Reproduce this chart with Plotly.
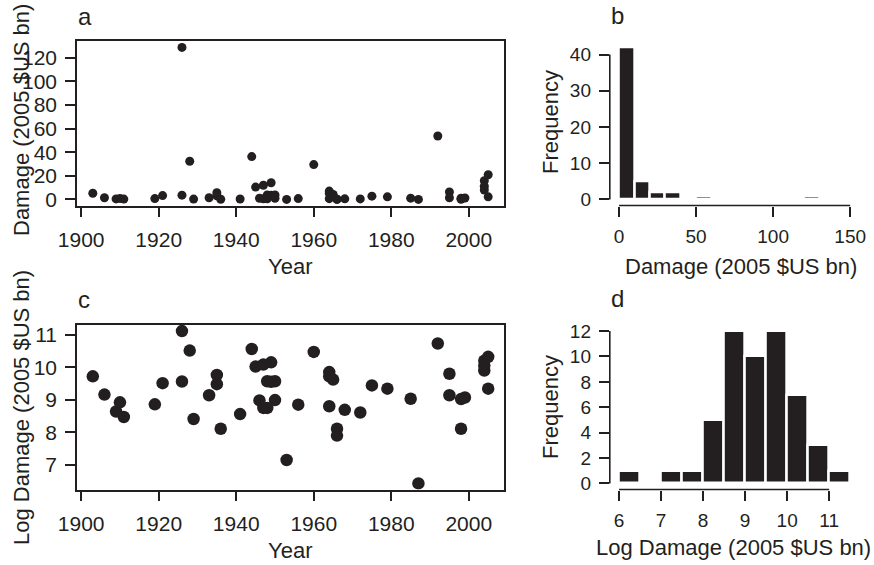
import plotly.graph_objects as go

# Landfalling hurricane losses: year and log10 of normalised damage (2005 US$)
years = [1903, 1906, 1909, 1910, 1911, 1919, 1921, 1926, 1926, 1928,
         1929, 1933, 1935, 1935, 1936, 1941, 1944, 1945, 1946, 1947,
         1947, 1948, 1948, 1949, 1949, 1950, 1950, 1953, 1956, 1960,
         1964, 1964, 1964, 1965, 1966, 1966, 1968, 1972, 1975, 1979,
         1985, 1987, 1992, 1995, 1995, 1998, 1998, 1999, 2004, 2004,
         2004, 2005, 2005]
log_damage = [9.72, 9.16, 8.64, 8.92, 8.47, 8.86, 9.51, 11.11, 9.56, 10.51,
              8.41, 9.14, 9.76, 9.48, 8.11, 8.56, 10.56, 10.02, 8.98, 10.08,
              8.75, 9.57, 8.75, 10.15, 9.55, 9.57, 8.99, 7.15, 8.85, 10.47,
              9.85, 9.72, 8.80, 9.62, 8.11, 7.90, 8.69, 8.61, 9.44, 9.34,
              9.03, 6.43, 10.73, 9.80, 9.14, 9.02, 8.11, 9.07, 10.20, 10.05,
              9.90, 10.32, 9.34]

# damage in billions of 2005 US$ (log values are log10 of dollars)
damage_bn = [10 ** (v - 9) for v in log_damage]

year_ticks = [1900, 1920, 1940, 1960, 1980, 2000]
damage_ticks = [0, 20, 40, 60, 80, 100, 120]
log_ticks = [7, 8, 9, 10, 11]
hist_damage_ticks = [0, 50, 100, 150]
hist_freq_ticks = [0, 10, 20, 30, 40]
hist_log_ticks = [6, 7, 8, 9, 10, 11]
hist_log_freq_ticks = [0, 2, 4, 6, 8, 10, 12]

INK = "#231f20"
FONT = "Liberation Sans, Arial, Helvetica, sans-serif"
W, H = 874, 565


def px_x(p):
    return p / W


def px_y(p):
    return 1 - p / H


def padded(lo, hi, frac=0.04):
    d = (hi - lo) * frac
    return [lo - d, hi + d]


left_dom = [px_x(77), px_x(504)]
right_dom = [px_x(609.8), px_x(859.4)]
top_dom = [px_y(205.5), px_y(41.3)]
bot_dom = [px_y(489.5), px_y(325)]

fig = go.Figure()

fig.add_trace(go.Scatter(
    x=years, y=damage_bn, mode="markers", xaxis="x", yaxis="y",
    marker=dict(size=9, color=INK), showlegend=False))

fig.add_trace(go.Histogram(
    x=damage_bn, xaxis="x2", yaxis="y2",
    xbins=dict(start=0, end=130, size=10),
    marker=dict(color=INK, line=dict(color="white", width=2.5)),
    showlegend=False))

fig.add_trace(go.Scatter(
    x=years, y=log_damage, mode="markers", xaxis="x3", yaxis="y3",
    marker=dict(size=12.5, color=INK), showlegend=False))

fig.add_trace(go.Histogram(
    x=log_damage, xaxis="x4", yaxis="y4",
    xbins=dict(start=6, end=11.5, size=0.5),
    marker=dict(color=INK, line=dict(color="white", width=2.5)),
    showlegend=False))

tick_font = dict(family=FONT, size=21, color=INK)
hist_tick_font = dict(family=FONT, size=19, color=INK)


def box_axis(domain, rng, ticks, anchor, font):
    return dict(domain=domain, range=rng, tickvals=ticks, anchor=anchor,
                showline=True, mirror=True, linecolor=INK, linewidth=1.6,
                ticks="outside", ticklen=10, tickwidth=1.5, tickcolor=INK,
                showgrid=False, zeroline=False, tickfont=font,
                ticklabelstandoff=4, automargin=False)


def open_axis(domain, rng, ticks, anchor, font):
    return dict(domain=domain, range=rng, tickvals=ticks, anchor=anchor,
                showline=False, ticks="outside", ticklen=10, tickwidth=1.5,
                tickcolor=INK, showgrid=False, zeroline=False, tickfont=font,
                ticklabelstandoff=4, automargin=False)


yr_range = padded(min(years), max(years))

fig.update_layout(
    width=W, height=H,
    margin=dict(l=0, r=0, t=0, b=0, autoexpand=False),
    paper_bgcolor="white", plot_bgcolor="white",
    bargap=0,
    xaxis=box_axis(left_dom, yr_range, year_ticks, "y", tick_font),
    yaxis=box_axis(top_dom, padded(min(damage_bn), max(damage_bn)),
                   damage_ticks, "x", tick_font),
    xaxis2=open_axis(right_dom, padded(0, 150), hist_damage_ticks, "y2",
                     hist_tick_font),
    yaxis2=open_axis(top_dom, padded(0, 42), hist_freq_ticks, "x2",
                     hist_tick_font),
    xaxis3=box_axis(left_dom, yr_range, year_ticks, "y3", tick_font),
    yaxis3=box_axis(bot_dom, padded(min(log_damage), max(log_damage)),
                    log_ticks, "x3", tick_font),
    xaxis4=open_axis(right_dom, padded(6, 11.5), hist_log_ticks, "y4",
                     hist_tick_font),
    yaxis4=open_axis(bot_dom, padded(0, 12), hist_log_freq_ticks, "x4",
                     hist_tick_font),
)

# axis lines of the histograms span only the tick range
line_style = dict(color=INK, width=1.6)
for xa, ya, xt, yt in [("x2", "y2", hist_damage_ticks, hist_freq_ticks),
                       ("x4", "y4", hist_log_ticks, hist_log_freq_ticks)]:
    fig.add_shape(type="line", xref=xa, yref=ya + " domain",
                  x0=xt[0], x1=xt[-1], y0=0, y1=0, line=line_style)
    fig.add_shape(type="line", xref=xa + " domain", yref=ya,
                  x0=0, x1=0, y0=yt[0], y1=yt[-1], line=line_style)

title_font = dict(family=FONT, size=22, color=INK)
letter_font = dict(family=FONT, size=24, color=INK)


def label(text, x, y, angle=0, font=title_font, xanchor="center"):
    fig.add_annotation(text=text, x=px_x(x), y=px_y(y), xref="paper",
                       yref="paper", showarrow=False, textangle=angle,
                       font=font, xanchor=xanchor, yanchor="middle")


label("Year", 290, 266)
label("Year", 290, 550)
label("Damage (2005 $US bn)", 741, 266)
label("Log Damage (2005 $US bn)", 733, 547)
label("Damage (2005 $US bn)", 21, 120, angle=-90)
label("Log Damage (2005 $US bn)", 21, 408, angle=-90)
label("Frequency", 550, 122, angle=-90)
label("Frequency", 550, 407, angle=-90)
label("a", 76, 16, font=letter_font, xanchor="left")
label("b", 609, 15, font=letter_font, xanchor="left")
label("c", 76, 299, font=letter_font, xanchor="left")
label("d", 609, 298, font=letter_font, xanchor="left")

fig.write_html("out.html")
